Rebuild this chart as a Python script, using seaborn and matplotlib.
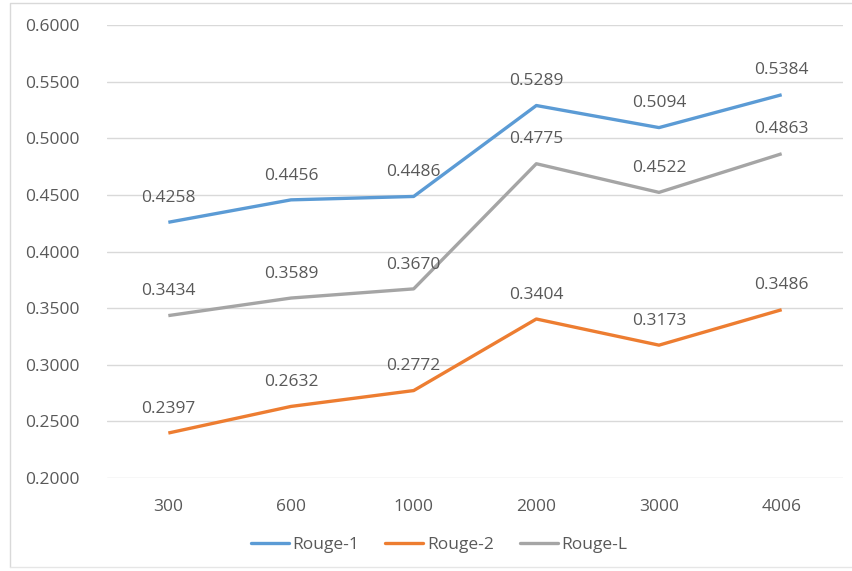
import matplotlib
matplotlib.use("Agg")
import matplotlib.pyplot as plt
import seaborn as sns
import pandas as pd
from matplotlib.lines import Line2D

categories = ["300", "600", "1000", "2000", "3000", "4006"]
rouge_1 = [0.4258, 0.4456, 0.4486, 0.5289, 0.5094, 0.5384]
rouge_2 = [0.2397, 0.2632, 0.2772, 0.3404, 0.3173, 0.3486]
rouge_l = [0.3434, 0.3589, 0.3670, 0.4775, 0.4522, 0.4863]
series_names = ["Rouge-1", "Rouge-2", "Rouge-L"]
y_ticks = [0.20, 0.25, 0.30, 0.35, 0.40, 0.45, 0.50, 0.55, 0.60]

colors = ["#5B9BD5", "#ED7D31", "#A5A5A5"]
text_color = "#595959"

sns.set_theme(style="white")
plt.rcParams["font.family"] = ["Open Sans", "DejaVu Sans"]

rows = []
for name, vals in zip(series_names, [rouge_1, rouge_2, rouge_l]):
    for i, (c, v) in enumerate(zip(categories, vals)):
        rows.append({"idx": i, "cat": c, "value": v, "series": name})
df = pd.DataFrame(rows)

fig = plt.figure(figsize=(8.53, 5.71), dpi=100)
ax = fig.add_axes([107/853, 1-478/571, (843-107)/853, (478-25)/571])

sns.lineplot(data=df, x="idx", y="value", hue="series", palette=colors,
             hue_order=series_names, linewidth=2.4, ax=ax, legend=False,
             sort=False, solid_capstyle="butt")

fs = 12.5
for name, vals in zip(series_names, [rouge_1, rouge_2, rouge_l]):
    for i, v in enumerate(vals):
        ax.annotate(f"{v:.4f}", (i, v), xytext=(0, 17.5), textcoords="offset points",
                    ha="center", va="center", fontsize=fs, color=text_color)

ax.set_xlim(-0.5, len(categories) - 0.5)
ax.set_ylim(0.2, 0.6)
ax.set_yticks(y_ticks)
ax.set_yticklabels([f"{t:.4f}" for t in y_ticks])
ax.set_xticks(range(len(categories)))
ax.set_xticklabels(categories)
ax.tick_params(axis="both", length=0, labelsize=fs, labelcolor=text_color)
ax.tick_params(axis="y", pad=20)
ax.tick_params(axis="x", pad=15)
ax.set_xlabel("")
ax.set_ylabel("")
ax.yaxis.grid(True, color="#D9D9D9", linewidth=1)
ax.xaxis.grid(False)
ax.set_axisbelow(True)
for s in ax.spines.values():
    s.set_visible(False)

handles = [Line2D([0], [0], color=c, linewidth=2.4) for c in colors]
fig.legend(handles, series_names, loc="center", bbox_to_anchor=(439/853, 1-545/571),
           ncol=3, frameon=False, fontsize=fs, handlelength=2.2,
           handletextpad=0.2, columnspacing=1.5, labelcolor=text_color)

# chart-area border
border = Line2D([10/853, 10/853, 1.0], [1-567/571, 1-3/571, 1-3/571],
                transform=fig.transFigure, color="#D9D9D9", linewidth=1)
fig.add_artist(border)
border2 = Line2D([10/853, 1.0], [1-567/571, 1-567/571],
                 transform=fig.transFigure, color="#E6E6E6", linewidth=1)
fig.add_artist(border2)

fig.savefig("out.png", dpi=100)
